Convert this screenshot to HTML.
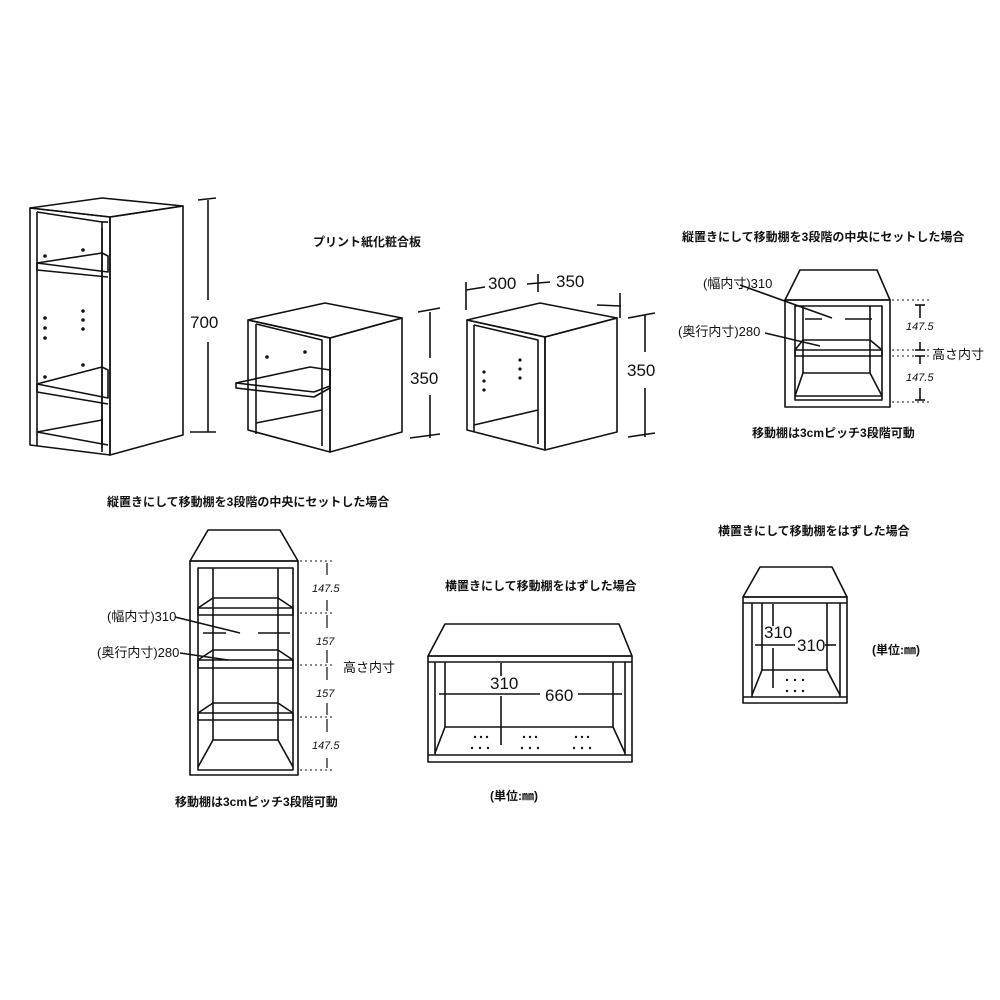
<!DOCTYPE html>
<html><head><meta charset="utf-8"><style>
html,body{margin:0;padding:0;background:#fff;}
svg{display:block}
text{font-family:"Liberation Sans","Noto Sans CJK JP",sans-serif;fill:#111}
.j{font-size:12px;font-weight:bold}
.n{font-size:17px}
.s{font-size:13px}
.i{font-size:11px;font-style:italic}
</style></head><body>
<svg width="1000" height="1000" viewBox="0 0 1000 1000" xmlns="http://www.w3.org/2000/svg">
<g fill="none" stroke="#111" stroke-width="1.6" stroke-linejoin="round">
<!-- Tall cabinet -->
<polygon points="30,208 102,198 183,206 110,217"/>
<polygon points="30,208 110,217 110,455 30,445"/>
<polygon points="110,217 183,206 183,435 110,455"/>
<polyline points="37,212 102,222 102,452"/>
<polyline points="37,212 37,446"/>
<line x1="102" y1="222" x2="108" y2="222"/>
<line x1="102" y1="228" x2="102" y2="448"/>
<polygon points="37,263 102,253 108,256 108,272 37,263"/>
<polyline points="37,263 37,270 108,277"/>
<polygon points="37,384 102,367 108,370 108,398"/>
<polyline points="37,384 37,392 108,404"/>
<polyline points="37,432 102,420 102,445"/>
<line x1="37" y1="432" x2="108" y2="445"/>
<line x1="208" y1="200" x2="208" y2="300"/><line x1="208" y1="342" x2="208" y2="432"/>
<line x1="198" y1="200" x2="216" y2="198"/><line x1="190" y1="432" x2="216" y2="432"/>
<!-- Cabinet 2 -->
<polygon points="248,320 325,303 402,318 330,338"/>
<polygon points="248,320 330,338 330,452 248,430"/>
<polygon points="330,338 402,318 402,432 330,452"/>
<polyline points="256,324 322,340 322,446"/>
<line x1="256" y1="324" x2="256" y2="434"/>
<polyline points="256,423 322,410"/>
<polygon points="236,383 310,367 330,370 330,388 314,397 236,388"/>
<line x1="236" y1="383" x2="314" y2="392"/><line x1="314" y1="392" x2="330" y2="386"/>
<line x1="430" y1="312" x2="430" y2="358"/><line x1="430" y1="395" x2="430" y2="438"/>
<line x1="418" y1="312" x2="440" y2="308"/><line x1="410" y1="438" x2="440" y2="434"/>
<!-- Cabinet 3 -->
<polygon points="467,320 540,303 617,318 545,337"/>
<polygon points="467,320 545,337 545,450 467,430"/>
<polygon points="545,337 617,318 617,432 545,450"/>
<polyline points="474,325 538,340 538,444"/>
<line x1="474" y1="325" x2="474" y2="432"/>
<polyline points="474,425 538,410"/>
<line x1="466" y1="290" x2="485" y2="287"/><line x1="466" y1="282" x2="466" y2="310"/>
<line x1="538" y1="274" x2="538" y2="292"/><line x1="527" y1="284" x2="550" y2="282"/>
<line x1="597" y1="305" x2="621" y2="306"/><line x1="620" y1="293" x2="620" y2="318"/>
<line x1="645" y1="315" x2="645" y2="352"/><line x1="645" y1="388" x2="645" y2="437"/>
<line x1="628" y1="318" x2="655" y2="313"/><line x1="628" y1="437" x2="655" y2="433"/>
<!-- Top right cabinet -->
<polygon points="785,300 800,270 877,270 890,300"/>
<rect x="785" y="300" width="105" height="107"/>
<rect x="795" y="306" width="87" height="94"/>
<line x1="803" y1="306" x2="803" y2="373"/><line x1="870" y1="306" x2="870" y2="373"/>
<polyline points="795,350 803,340 870,340 882,350"/>
<rect x="795" y="350" width="87" height="6"/>
<polyline points="795,396 803,373 870,373 882,396"/>
<line x1="795" y1="396" x2="882" y2="396"/>
<line x1="740" y1="285" x2="832" y2="318"/>
<line x1="765" y1="333" x2="820" y2="346"/>
<line x1="805" y1="319" x2="822" y2="319"/><line x1="845" y1="319" x2="872" y2="319"/>
<line x1="920" y1="305" x2="920" y2="318"/><line x1="915" y1="305" x2="925" y2="305"/>
<line x1="920" y1="342" x2="920" y2="350"/><line x1="915" y1="350" x2="925" y2="350"/>
<line x1="920" y1="356" x2="920" y2="364"/><line x1="915" y1="356" x2="925" y2="356"/>
<line x1="920" y1="388" x2="920" y2="400"/><line x1="915" y1="400" x2="925" y2="400"/>
<!-- Bottom left tall -->
<polygon points="190,561 208,530 280,530 298,561"/>
<rect x="190" y="561" width="108" height="214"/>
<rect x="198" y="568" width="95" height="202"/>
<line x1="213" y1="568" x2="213" y2="740"/><line x1="278" y1="568" x2="278" y2="740"/>
<polyline points="198,608 213,598 278,598 293,608"/><rect x="198" y="608" width="95" height="7"/>
<polyline points="198,660 213,650 278,650 293,660"/><rect x="198" y="660" width="95" height="8"/>
<polyline points="198,713 213,703 278,703 293,713"/><rect x="198" y="713" width="95" height="7"/>
<polyline points="198,767 213,740 278,740 293,767"/>
<line x1="175" y1="617" x2="240" y2="633"/>
<line x1="180" y1="653" x2="228" y2="660"/>
<line x1="203" y1="633" x2="226" y2="633"/><line x1="258" y1="633" x2="290" y2="633"/>
<!-- Bottom middle wide -->
<polygon points="428,656 445,624 619,624 632,656"/>
<rect x="428" y="656" width="204" height="106"/>
<line x1="428" y1="662" x2="632" y2="662"/><line x1="428" y1="755" x2="632" y2="755"/>
<line x1="435" y1="662" x2="435" y2="755"/><line x1="625" y1="662" x2="625" y2="755"/>
<line x1="445" y1="662" x2="445" y2="727"/><line x1="613" y1="662" x2="613" y2="727"/>
<polyline points="435,753 445,727 613,727 625,753"/>
<line x1="501" y1="663" x2="501" y2="676"/><line x1="501" y1="696" x2="501" y2="745"/>
<line x1="439" y1="694" x2="540" y2="694"/><line x1="578" y1="694" x2="622" y2="694"/>
<!-- Bottom right -->
<polygon points="743,597 760,567 832,567 847,597"/>
<rect x="743" y="597" width="104" height="106"/>
<line x1="743" y1="603" x2="847" y2="603"/><line x1="743" y1="697" x2="847" y2="697"/>
<line x1="752" y1="603" x2="752" y2="697"/><line x1="840" y1="603" x2="840" y2="697"/>
<line x1="762" y1="603" x2="762" y2="670"/><line x1="827" y1="603" x2="827" y2="670"/>
<polyline points="752,695 762,670 827,670 840,695"/>
<line x1="773" y1="604" x2="773" y2="626"/><line x1="773" y1="648" x2="773" y2="688"/>
<line x1="755" y1="645" x2="795" y2="645"/><line x1="825" y1="645" x2="836" y2="645"/>
</g>
<g stroke="#111" stroke-width="1" stroke-dasharray="2,3">
<line x1="892" y1="300" x2="930" y2="300"/><line x1="892" y1="350" x2="930" y2="350"/>
<line x1="892" y1="356" x2="930" y2="356"/><line x1="892" y1="402" x2="930" y2="402"/>
<line x1="300" y1="561" x2="332" y2="561"/><line x1="300" y1="613" x2="332" y2="613"/>
<line x1="300" y1="665" x2="332" y2="665"/><line x1="300" y1="717" x2="332" y2="717"/>
<line x1="300" y1="770" x2="332" y2="770"/>
</g>
<g stroke="#111" stroke-width="1.2">
<line x1="327" y1="563" x2="327" y2="575"/><line x1="327" y1="600" x2="327" y2="611"/>
<line x1="327" y1="615" x2="327" y2="628"/><line x1="327" y1="650" x2="327" y2="663"/>
<line x1="327" y1="667" x2="327" y2="680"/><line x1="327" y1="703" x2="327" y2="715"/>
<line x1="327" y1="719" x2="327" y2="732"/><line x1="327" y1="758" x2="327" y2="768"/>
</g>
<g fill="#111">
<circle cx="45" cy="256" r="1.8"/><circle cx="83" cy="250" r="1.8"/>
<circle cx="45" cy="318" r="1.8"/><circle cx="45" cy="328" r="1.8"/><circle cx="45" cy="338" r="1.8"/>
<circle cx="83" cy="311" r="1.8"/><circle cx="83" cy="320" r="1.8"/><circle cx="83" cy="329" r="1.8"/>
<circle cx="45" cy="377" r="1.8"/><circle cx="83" cy="365" r="1.8"/>
<circle cx="267" cy="357" r="1.8"/><circle cx="305" cy="352" r="1.8"/>
<circle cx="484" cy="372" r="1.6"/><circle cx="484" cy="381" r="1.6"/><circle cx="484" cy="390" r="1.6"/>
<circle cx="520" cy="360" r="1.6"/><circle cx="520" cy="369" r="1.6"/><circle cx="520" cy="378" r="1.6"/>
<circle cx="475" cy="737" r="1.2"/><circle cx="481" cy="737" r="1.2"/><circle cx="487" cy="737" r="1.2"/>
<circle cx="472" cy="748" r="1.2"/><circle cx="480" cy="748" r="1.2"/><circle cx="488" cy="748" r="1.2"/>
<circle cx="524" cy="737" r="1.2"/><circle cx="530" cy="737" r="1.2"/><circle cx="536" cy="737" r="1.2"/>
<circle cx="522" cy="748" r="1.2"/><circle cx="530" cy="748" r="1.2"/><circle cx="538" cy="748" r="1.2"/>
<circle cx="576" cy="737" r="1.2"/><circle cx="582" cy="737" r="1.2"/><circle cx="588" cy="737" r="1.2"/>
<circle cx="574" cy="748" r="1.2"/><circle cx="582" cy="748" r="1.2"/><circle cx="590" cy="748" r="1.2"/>
<circle cx="787" cy="680" r="1.2"/><circle cx="795" cy="680" r="1.2"/><circle cx="803" cy="680" r="1.2"/>
<circle cx="787" cy="691" r="1.2"/><circle cx="795" cy="691" r="1.2"/><circle cx="803" cy="691" r="1.2"/>
</g>
<text class="n" x="190" y="328">700</text>
<text class="n" x="410" y="384">350</text>
<text class="n" x="627" y="376">350</text>
<text class="n" x="488" y="289">300</text>
<text class="n" x="556" y="287">350</text>
<text class="j" x="313" y="246">プリント紙化粧合板</text>
<text class="j" x="682" y="241">縦置きにして移動棚を3段階の中央にセットした場合</text>
<text class="s" x="703" y="288">(幅内寸)310</text>
<text class="s" x="678" y="336">(奥行内寸)280</text>
<text class="i" x="906" y="330">147.5</text>
<text class="i" x="906" y="381">147.5</text>
<text class="s" x="932" y="359">高さ内寸</text>
<text class="j" x="752" y="437">移動棚は3cmピッチ3段階可動</text>
<text class="j" x="107" y="506">縦置きにして移動棚を3段階の中央にセットした場合</text>
<text class="s" x="107" y="621">(幅内寸)310</text>
<text class="s" x="97" y="657">(奥行内寸)280</text>
<text class="i" x="312" y="592">147.5</text>
<text class="i" x="316" y="645">157</text>
<text class="i" x="316" y="697">157</text>
<text class="i" x="312" y="749">147.5</text>
<text class="s" x="343" y="672">高さ内寸</text>
<text class="j" x="175" y="806">移動棚は3cmピッチ3段階可動</text>
<text class="j" x="445" y="590">横置きにして移動棚をはずした場合</text>
<text class="n" x="490" y="689">310</text>
<text class="n" x="545" y="701">660</text>
<text class="j" x="490" y="800">(単位:㎜)</text>
<text class="j" x="718" y="535">横置きにして移動棚をはずした場合</text>
<text class="n" x="764" y="638">310</text>
<text class="n" x="797" y="651">310</text>
<text class="j" x="872" y="654">(単位:㎜)</text>
</svg>
</body></html>
